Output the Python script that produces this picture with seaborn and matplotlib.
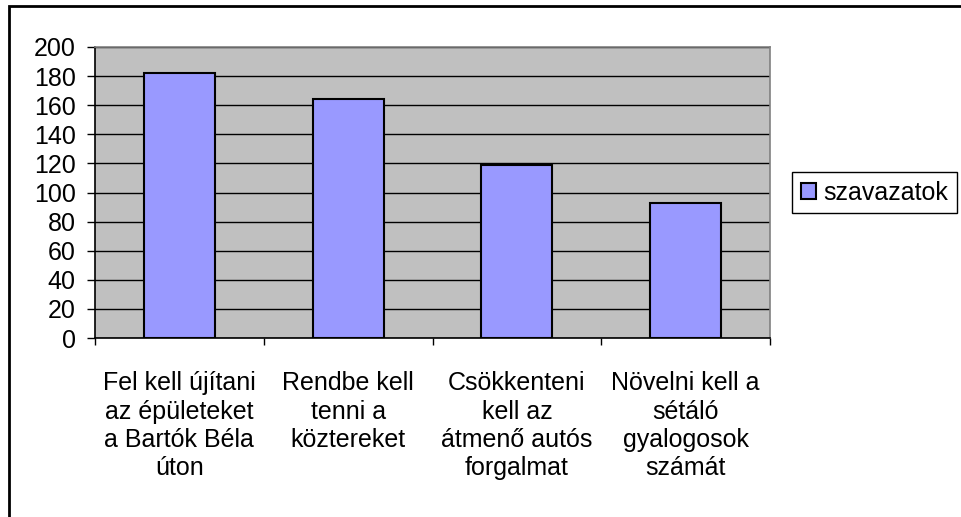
import matplotlib
matplotlib.use("Agg")
import matplotlib.pyplot as plt
import seaborn as sns
import pandas as pd
from matplotlib.patches import Rectangle

# adatok
kategoriak = [
    "Fel kell újítani\naz épületeket\na Bartók Béla\núton",
    "Rendbe kell\ntenni a\nköztereket",
    "Csökkenteni\nkell az\nátmenő autós\nforgalmat",
    "Növelni kell a\nsétáló\ngyalogosok\nszámát",
]
szavazatok = [182, 164, 119, 93]
y_ticks = [0, 20, 40, 60, 80, 100, 120, 140, 160, 180, 200]

df = pd.DataFrame({"kategoria": kategoriak, "szavazatok": szavazatok})

sns.set_style("white", {"text.color": "black", "xtick.color": "black",
                        "ytick.color": "black"})
plt.rcParams['font.family'] = ['Liberation Sans', 'DejaVu Sans']

W, H = 961, 517
fig = plt.figure(figsize=(W / 100, H / 100), dpi=100)
ax = fig.add_axes([95 / W, 1 - 338 / H, 675 / W, 291 / H])
ax.set_facecolor('#C0C0C0')

sns.barplot(data=df, x='kategoria', y='szavazatok', color='#9999FF',
            saturation=1, width=0.42, edgecolor='black', linewidth=1.5,
            label='szavazatok', ax=ax, zorder=3)

ax.set_ylim(0, 200)
ax.set_xlim(-0.5, 3.5)
ax.set_yticks(y_ticks)
ax.yaxis.grid(True, color='black', linewidth=1)
ax.set_axisbelow(True)
ax.set_xlabel('')
ax.set_ylabel('')

ax.tick_params(axis='y', which='major', direction='out', length=6, width=1,
               color='black', labelcolor='black', labelsize=18, pad=8, left=True)
ax.set_xticks([-0.5, 0.5, 1.5, 2.5, 3.5], minor=True)
ax.tick_params(axis='x', which='minor', direction='out', length=5, width=1,
               color='black', bottom=True)
ax.tick_params(axis='x', which='major', length=0, labelsize=18, pad=24,
               labelcolor='black')
for lbl in ax.get_xticklabels():
    lbl.set_verticalalignment('top')
    lbl.set_linespacing(1.22)

for side in ['left', 'bottom']:
    ax.spines[side].set_color('black')
    ax.spines[side].set_linewidth(1.2)
for side in ['top', 'right']:
    ax.spines[side].set_visible(True)
    ax.spines[side].set_color('#808080')
    ax.spines[side].set_linewidth(1.2)

leg = ax.legend(loc='center left', bbox_to_anchor=(792 / W, 1 - 192.5 / H),
                bbox_transform=fig.transFigure, fontsize=18, frameon=True,
                fancybox=False, edgecolor='black', framealpha=1,
                handlelength=0.6, handleheight=0.6, handletextpad=0.3,
                borderpad=0.35, borderaxespad=0)
leg.get_frame().set_linewidth(1)
for t in leg.get_texts():
    t.set_color('black')

# keret a kép bal és felső szélén
fig.patches.append(Rectangle((8.5 / W, -0.2), 1.2, 1.2 - 5.5 / H,
                             transform=fig.transFigure, fill=False,
                             edgecolor='black', linewidth=2, clip_on=False))

fig.savefig('out.png', dpi=100)
